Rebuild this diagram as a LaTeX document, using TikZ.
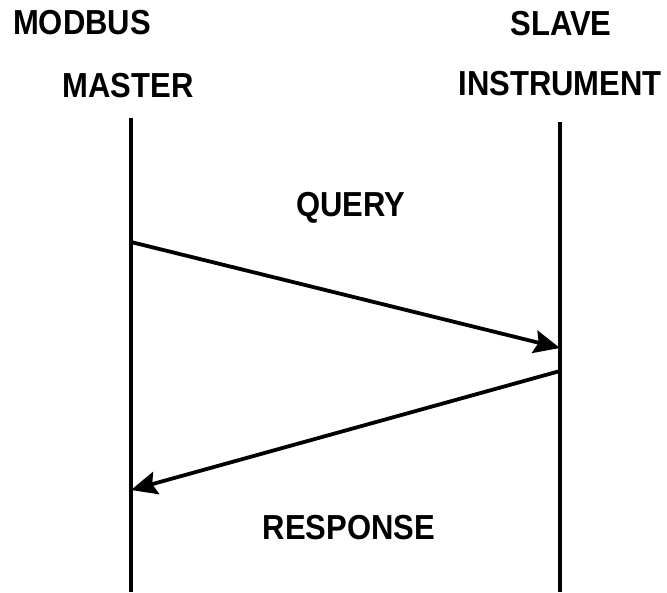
\documentclass[tikz,border=0pt]{standalone}
\usepackage{fontspec}
\setmainfont{Liberation Sans}
\usetikzlibrary{arrows.meta}
\newcommand{\tallbf}[1]{\scalebox{1}[1.12]{#1}}
\begin{document}
\begin{tikzpicture}[x=1pt,y=-1pt,
  lbl/.style={font=\fontsize{31}{36}\selectfont\bfseries, inner sep=0pt},
  life/.style={line width=3.8pt},
  msg/.style={line width=3.8pt, -{Stealth[length=26pt,width=23pt,inset=4pt]}}]
\useasboundingbox (0,0) rectangle (667,592);
\node[lbl] (modbus) at (82,23) {\tallbf{MODBUS}};
\node[lbl] (master) at (128,86) {\tallbf{MASTER}};
\node[lbl] (slave) at (561,24) {\tallbf{SLAVE}};
\node[lbl] (instr) at (560,84) {\tallbf{INSTRUMENT}};
\node[lbl] (query) at (351,208) {\tallbf{QUERY}};
\node[lbl] (resp) at (349,528) {\tallbf{RESPONSE}};
\coordinate (mtop) at (131,118);
\coordinate (mbot) at (131,592);
\coordinate (stop) at (560,122);
\coordinate (sbot) at (560,592);
\coordinate (q1) at (131,242);
\coordinate (q2) at (560,348);
\coordinate (r1) at (560,371);
\coordinate (r2) at (131,490);
\draw[life] (mtop) -- (mbot);
\draw[life] (stop) -- (sbot);
\draw[msg] (q1) -- (q2);
\draw[msg] (r1) -- (r2);
\end{tikzpicture}
\end{document}
